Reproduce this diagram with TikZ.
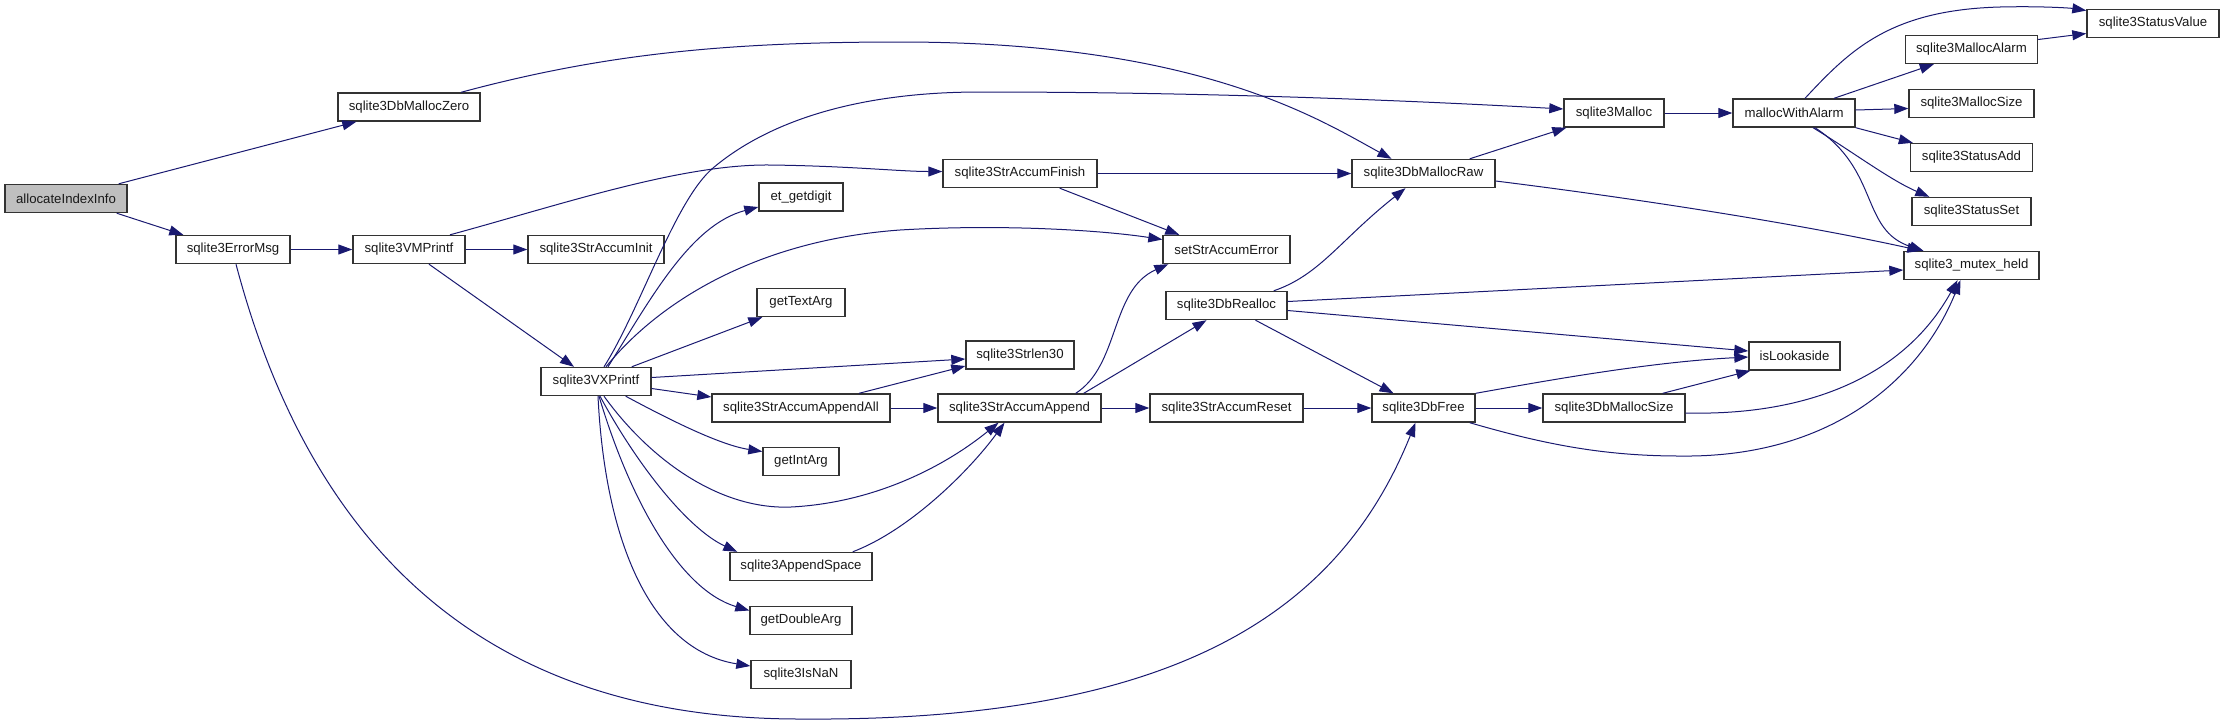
\documentclass[tikz,border=0pt]{standalone}
\usepackage{fontspec}
\setmainfont{Liberation Sans}
\usetikzlibrary{arrows.meta}
\definecolor{edgeblue}{HTML}{191970}
\definecolor{rootgray}{HTML}{BFBFBF}
\definecolor{boxline}{HTML}{333333}
\begin{document}
\begin{tikzpicture}[x=1pt,y=-1pt,
  fn/.style={draw=boxline, line width=1.4pt, minimum height=28pt, inner sep=0pt,
    font=\fontsize{13.2}{15}\selectfont, text=black!90, fill=white},
  call/.style={draw=edgeblue, line width=1pt, -{Triangle[length=14pt,width=10pt]}}]
\useasboundingbox (0,0) rectangle (2224,724);
% nodes
\node[fn, minimum width=122pt, fill=rootgray] (A) at (66,198.5) {allocateIndexInfo};
\node[fn, minimum width=142pt] (DMZ) at (409,107) {sqlite3DbMallocZero};
\node[fn, minimum width=114pt] (EM) at (233,249.5) {sqlite3ErrorMsg};
\node[fn, minimum width=112pt] (VMP) at (409,249.5) {sqlite3VMPrintf};
\node[fn, minimum width=136pt] (SAI) at (596,249.5) {sqlite3StrAccumInit};
\node[fn, minimum width=110pt] (VXP) at (596,381.5) {sqlite3VXPrintf};
\node[fn, minimum width=84pt] (ETG) at (801,197) {et\_getdigit};
\node[fn, minimum width=88pt] (GTA) at (801,302.5) {getTextArg};
\node[fn, minimum width=108pt] (SL30) at (1020,355) {sqlite3Strlen30};
\node[fn, minimum width=178pt] (SAAA) at (801,408) {sqlite3StrAccumAppendAll};
\node[fn, minimum width=163pt] (SAA) at (1019.5,408) {sqlite3StrAccumAppend};
\node[fn, minimum width=76pt] (GIA) at (801,461.5) {getIntArg};
\node[fn, minimum width=142pt] (AS) at (801,566.5) {sqlite3AppendSpace};
\node[fn, minimum width=102pt] (GDA) at (801,620.5) {getDoubleArg};
\node[fn, minimum width=100pt] (ISN) at (801,674.5) {sqlite3IsNaN};
\node[fn, minimum width=154pt] (SAF) at (1020,173.5) {sqlite3StrAccumFinish};
\node[fn, minimum width=127pt] (SAE) at (1226.5,249.5) {setStrAccumError};
\node[fn, minimum width=121pt] (DR) at (1226.5,305.5) {sqlite3DbRealloc};
\node[fn, minimum width=153pt] (SAR) at (1226.5,408) {sqlite3StrAccumReset};
\node[fn, minimum width=143pt] (DMR) at (1423.5,173.5) {sqlite3DbMallocRaw};
\node[fn, minimum width=103pt] (DF) at (1423.5,408) {sqlite3DbFree};
\node[fn, minimum width=100pt] (M) at (1614,113) {sqlite3Malloc};
\node[fn, minimum width=142pt] (DMS) at (1614,408) {sqlite3DbMallocSize};
\node[fn, minimum width=122pt] (MWA) at (1794,113) {mallocWithAlarm};
\node[fn, minimum width=91pt] (IL) at (1794.5,356) {isLookaside};
\node[fn, minimum width=135pt] (MH) at (1971.5,265.5) {sqlite3\_mutex\_held};
\node[fn, minimum width=132pt] (MA) at (1971.5,49.5) {sqlite3MallocAlarm};
\node[fn, minimum width=125pt] (MS) at (1971.5,103.5) {sqlite3MallocSize};
\node[fn, minimum width=122pt] (SA) at (1971.5,157.5) {sqlite3StatusAdd};
\node[fn, minimum width=119pt] (SS) at (1971.5,211.5) {sqlite3StatusSet};
\node[fn, minimum width=132pt] (SV) at (2153,23.5) {sqlite3StatusValue};
% edges
\draw[call] ([xshift=-9pt]A.north east) -- ([xshift=19pt]DMZ.south west);
\draw[call] ([xshift=-11pt]A.south east) -- ([xshift=8pt]EM.north west);
\draw[call] (EM.east) -- (VMP.west);
\draw[call] ([xshift=3pt]EM.south) .. controls (330,620) and (560,719) .. (800,719) .. controls (1180,722) and (1340,610) .. ([xshift=-8pt]DF.south);
\draw[call] ([xshift=52pt]DMZ.north) .. controls (600,55) and (720,42) .. (900,42) .. controls (1200,42) and (1320,120) .. ([xshift=-32pt]DMR.north);
\draw[call] (VMP.east) -- (SAI.west);
\draw[call] ([xshift=20pt]VMP.south) -- ([xshift=-22pt]VXP.north);
\draw[call] ([xshift=41pt]VMP.north) .. controls (560,205) and (680,164) .. (770,165) .. controls (850,166) and (900,171.5) .. ([yshift=2pt]SAF.west);
\draw[call] ([xshift=8pt]VXP.north) .. controls (640,310) and (675,200) .. (713,168) .. controls (770,120) and (860,92) .. (980,92) .. controls (1200,92) and (1400,100) .. ([yshift=4pt]M.west);
\draw[call] ([xshift=12pt]VXP.north) .. controls (650,300) and (690,225) .. ([yshift=-10pt]ETG.west);
\draw[call] ([xshift=10pt]VXP.north) .. controls (660,300) and (760,240) .. (900,230) .. controls (1000,224) and (1100,230) .. ([yshift=10pt]SAE.west);
\draw[call] ([xshift=-20pt]VXP.north east) -- ([xshift=6pt]GTA.south west);
\draw[call] ([yshift=4pt]VXP.east) -- ([yshift=-4pt]SL30.west);
\draw[call] ([yshift=-7pt]VXP.east) -- ([yshift=11pt]SAAA.west);
\draw[call] ([xshift=-26pt]VXP.south east) .. controls (670,420) and (720,445) .. ([yshift=10pt]GIA.west);
\draw[call] ([xshift=8pt]VXP.south) .. controls (650,460) and (720,510) .. (791,507) .. controls (870,503) and (940,470) .. ([xshift=-21pt]SAA.south);
\draw[call] ([xshift=4pt]VXP.south) .. controls (640,470) and (690,530) .. ([xshift=8pt]AS.north west);
\draw[call] ([xshift=3pt]VXP.south) .. controls (630,500) and (680,590) .. ([yshift=10pt]GDA.west);
\draw[call] ([xshift=2pt]VXP.south) .. controls (605,540) and (650,650) .. ([yshift=8.5pt]ISN.west);
\draw[call] ([xshift=58pt]SAAA.north) -- ([yshift=-11pt]SL30.west);
\draw[call] (SAAA.east) -- (SAA.west);
\draw[call] ([xshift=-20pt]AS.north east) .. controls (910,530) and (970,470) .. ([xshift=-15pt]SAA.south);
\draw[call] (SAF.east) -- (DMR.west);
\draw[call] ([xshift=-38pt]SAF.south east) -- ([xshift=17pt]SAE.north west);
\draw[call] ([xshift=-26pt]SAA.north east) .. controls (1120,365) and (1110,290) .. ([xshift=6pt]SAE.south west);
\draw[call] ([xshift=-18pt]SAA.north east) -- ([xshift=-20pt]DR.south);
\draw[call] (SAA.east) -- (SAR.west);
\draw[call] (SAR.east) -- (DF.west);
\draw[call] ([xshift=-14pt]DR.north east) .. controls (1320,275) and (1340,240) .. ([xshift=-18pt]DMR.south);
\draw[call] ([xshift=29pt]DR.south) -- ([xshift=-30pt]DF.north);
\draw[call] ([yshift=4pt]DR.east) -- ([yshift=-4.5pt]MH.west);
\draw[call] ([yshift=-5pt]DR.east) -- ([yshift=5pt]IL.west);
\draw[call] ([xshift=-26pt]DMR.north east) -- ([xshift=3pt]M.south west);
\draw[call] ([yshift=-7.5pt]DMR.east) .. controls (1640,199) and (1800,224) .. ([xshift=18pt]MH.north west);
\draw[call] (DF.east) -- (DMS.west);
\draw[call] (DF.north east) .. controls (1550,380) and (1650,362) .. ([yshift=-1pt]IL.west);
\draw[call] ([xshift=-6pt]DF.south east) .. controls (1540,443) and (1600,456) .. (1680,456) .. controls (1830,458) and (1920,380) .. ([xshift=-11pt]MH.south);
\draw[call] ([xshift=-23pt]DMS.north east) -- ([xshift=2pt]IL.south west);
\draw[call] ([yshift=-5pt]DMS.east) .. controls (1810,416) and (1905,375) .. ([xshift=-14pt]MH.south);
\draw[call] (M.east) -- (MWA.west);
\draw[call] ([xshift=11pt]MWA.north) .. controls (1850,50) and (1890,10) .. (2000,7) .. controls (2040,6) and (2070,8) .. ([yshift=13pt]SV.west);
\draw[call] ([xshift=40pt]MWA.north) -- ([xshift=29pt]MA.south west);
\draw[call] ([yshift=3pt]MWA.east) -- ([yshift=-5pt]MS.west);
\draw[call] (MWA.south east) -- ([xshift=3pt]SA.north west);
\draw[call] ([xshift=19pt]MWA.south) .. controls (1850,150) and (1890,180) .. ([xshift=18pt]SS.north west);
\draw[call] ([xshift=21pt]MWA.south) .. controls (1880,170) and (1860,230) .. ([xshift=-48pt]MH.north);
\draw[call] ([yshift=10pt]MA.east) -- ([yshift=-10pt]SV.west);
\end{tikzpicture}
\end{document}
